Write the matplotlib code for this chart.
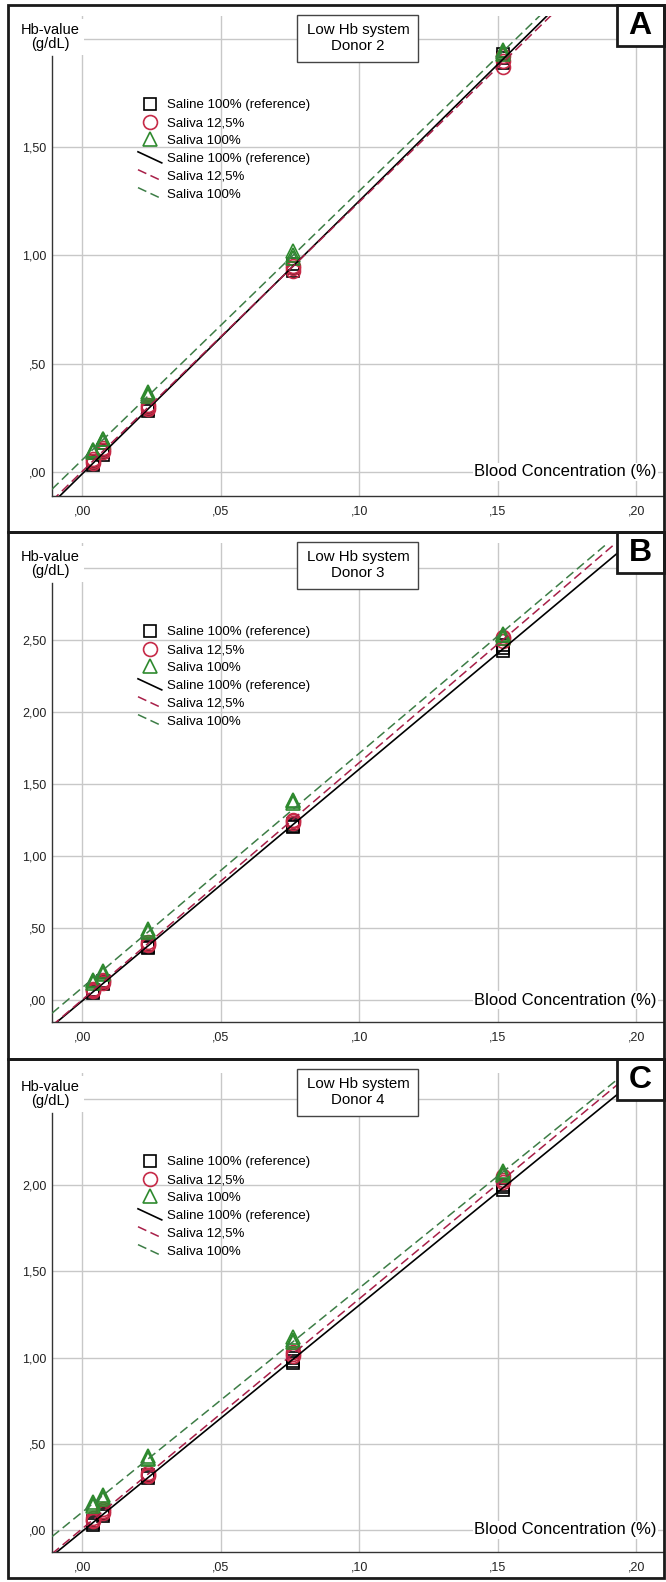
import numpy as np
import matplotlib
matplotlib.use("Agg")
import matplotlib.pyplot as plt
from matplotlib.lines import Line2D
from matplotlib.patches import Rectangle
from matplotlib.legend_handler import HandlerBase

plt.rcParams['font.family'] = ['Liberation Sans', 'DejaVu Sans']

# blood concentration (%) of the dilution series
conc = [0.0038, 0.0076, 0.0238, 0.076, 0.152]

# Hb values (g/dL), three replicates per concentration
saline_A = [[0.03, 0.04, 0.05], [0.08, 0.09, 0.10], [0.28, 0.29, 0.30], [0.93, 0.94, 0.96], [1.89, 1.91, 1.93]]
saliva125_A = [[0.04, 0.05, 0.06], [0.09, 0.10, 0.11], [0.29, 0.30, 0.31], [0.93, 0.94, 0.95], [1.87, 1.90, 1.92]]
saliva100_A = [[0.09, 0.10, 0.10], [0.14, 0.15, 0.15], [0.35, 0.36, 0.37], [0.99, 1.00, 1.02], [1.93, 1.94, 1.95]]

saline_B = [[0.05, 0.06, 0.07], [0.11, 0.12, 0.13], [0.36, 0.37, 0.38], [1.20, 1.21, 1.22], [2.42, 2.44, 2.46]]
saliva125_B = [[0.06, 0.07, 0.08], [0.12, 0.13, 0.14], [0.38, 0.39, 0.40], [1.23, 1.24, 1.25], [2.49, 2.51, 2.52]]
saliva100_B = [[0.12, 0.13, 0.14], [0.18, 0.19, 0.20], [0.47, 0.48, 0.49], [1.37, 1.38, 1.39], [2.51, 2.53, 2.54]]

saline_C = [[0.03, 0.04, 0.05], [0.08, 0.09, 0.10], [0.30, 0.31, 0.32], [0.97, 0.98, 1.00], [1.97, 1.99, 2.00]]
saliva125_C = [[0.05, 0.06, 0.07], [0.10, 0.11, 0.12], [0.31, 0.32, 0.33], [1.01, 1.02, 1.03], [2.02, 2.03, 2.05]]
saliva100_C = [[0.14, 0.15, 0.16], [0.18, 0.19, 0.20], [0.41, 0.42, 0.43], [1.09, 1.10, 1.12], [2.06, 2.07, 2.08]]

letters = ["A", "B", "C"]
donors = ["Donor 2", "Donor 3", "Donor 4"]
series_labels = ["Saline 100% (reference)", "Saliva 12,5%", "Saliva 100%"]
x_ticks = [0.0, 0.05, 0.10, 0.15, 0.20]

data = [(saline_A, saliva125_A, saliva100_A),
        (saline_B, saliva125_B, saliva100_B),
        (saline_C, saliva125_C, saliva100_C)]

# layout in pixels
W, H = 666, 1582
panel_top = [5, 532, 1059]
panel_bot = [532, 1059, 1578]
ax_top = [16, 543, 1073]
ax_bot = [496, 1022, 1552]
ax_left, ax_right = 52, 663
ylims = [(-0.111, 2.106), (-0.152, 3.17), (-0.128, 2.65)]
grid_top = [2.0, 3.0, 2.5]

mark_col = ['black', '#c62a47', '#2f8a2f']
line_col = ['black', '#a81f48', '#3d7d46']
markers = ['s', 'o', '^']
msizes = [9, 10, 9.5]


class SlantHandler(HandlerBase):
    # SPSS style legend line: short diagonal stroke
    def create_artists(self, legend, orig_handle, xdescent, ydescent,
                       width, height, fontsize, trans):
        x0 = -xdescent
        y0 = -ydescent
        ln = Line2D([x0, x0 + width], [y0 + height * 1.1, y0 - height * 0.1])
        ln.update_from(orig_handle)
        ln.set_transform(trans)
        return [ln]


def fmt(v):
    return f"{v:.2f}".replace('.', ',').lstrip('0')


fig = plt.figure(figsize=(W / 100, H / 100), dpi=100)
fig.patch.set_facecolor('white')

for i in range(3):
    ax_h = ax_bot[i] - ax_top[i]
    ax = fig.add_axes([ax_left / W, 1 - ax_bot[i] / H,
                       (ax_right - ax_left) / W, ax_h / H])
    ax.set_xlim(-0.0109, (ax_right - 82.3) / 2769)
    y0, y1 = ylims[i]
    ax.set_ylim(y0, y1)
    for s in ['top', 'right']:
        ax.spines[s].set_visible(False)
    for s in ['left', 'bottom']:
        ax.spines[s].set_color('#333333')
        ax.spines[s].set_linewidth(1.0)
    # y axis line starts below the axis title
    ax.spines['left'].set_bounds(y0, y1 - (y1 - y0) * 40 / ax_h)

    yt = list(np.arange(0, grid_top[i] + 0.01, 0.5))
    ax.set_yticks(yt)
    ax.set_yticklabels([fmt(t) if t < grid_top[i] - 0.01 else '' for t in yt])
    ax.set_xticks(x_ticks)
    ax.set_xticklabels([fmt(t) for t in x_ticks])
    ax.tick_params(length=0, labelsize=9, colors='#222222')
    ax.tick_params(axis='x', pad=7)
    ax.tick_params(axis='y', pad=4)
    ax.grid(True, color='#c8c8c8', linewidth=1.0)
    ax.set_axisbelow(True)

    # scatter of replicates
    for j, vals in enumerate(data[i]):
        xs = np.repeat(conc, [len(r) for r in vals])
        ys = np.concatenate(vals)
        ax.plot(xs, ys, linestyle='none', marker=markers[j], ms=msizes[j],
                mfc='none', mec=mark_col[j], mew=1.2, zorder=3)

    # linear fit lines per group
    xr = np.array(ax.get_xlim())
    for j, vals in enumerate(data[i]):
        xs = np.repeat(conc, [len(r) for r in vals])
        ys = np.concatenate(vals)
        k, b = np.polyfit(xs, ys, 1)
        if j == 0:
            ax.plot(xr, k * xr + b, color=line_col[j], lw=1.2, zorder=4)
        else:
            ax.plot(xr, k * xr + b, color=line_col[j], lw=1.1,
                    dashes=(6, 3), zorder=5)

    # legend
    handles = []
    for j in range(3):
        handles.append(Line2D([], [], linestyle='none', marker=markers[j],
                              ms=msizes[j], mfc='none', mec=mark_col[j], mew=1.2))
    line_handles = [Line2D([], [], color=line_col[0], lw=1.2),
                    Line2D([], [], color=line_col[1], lw=1.1, dashes=(6, 3)),
                    Line2D([], [], color=line_col[2], lw=1.1, dashes=(6, 3))]
    hmap = {h: SlantHandler() for h in line_handles}
    ax.legend(handles + line_handles, series_labels + series_labels,
              loc='upper left', bbox_to_anchor=(138 / W, 1 - (ax_top[i] + 83) / H),
              bbox_transform=fig.transFigure, frameon=False, fontsize=9.5,
              handlelength=1.8, handletextpad=0.4, labelspacing=0.43,
              borderpad=0, borderaxespad=0, numpoints=1, handler_map=hmap)

    # axis titles
    fig.text(50 / W, 1 - (ax_top[i] + 21) / H, "Hb-value\n(g/dL)", ha='center', va='center',
             fontsize=10.5, linespacing=1.0,
             bbox=dict(facecolor='white', edgecolor='none', pad=3))
    zero_px = ax_top[i] + ax_h * y1 / (y1 - y0)
    ax.text(657 / W, 1 - zero_px / H,
            "Blood Concentration (%)", transform=fig.transFigure, ha='right', va='center',
            fontsize=12, zorder=6,
            bbox=dict(facecolor='white', edgecolor='none', pad=1))

    # chart title box
    pt = panel_top[i]
    fig.add_artist(Rectangle((297 / W, 1 - (pt + 57) / H), 121 / W, 47 / H,
                             transform=fig.transFigure, facecolor='white',
                             edgecolor='#444444', lw=1.0, zorder=7))
    fig.text(358 / W, 1 - (pt + 33) / H, "Low Hb system\n" + donors[i], ha='center',
             va='center', fontsize=10.8, linespacing=1.15, zorder=8)

    # panel letter box
    fig.add_artist(Rectangle((617 / W, 1 - (pt + 41) / H), 47 / W, 41 / H,
                             transform=fig.transFigure, facecolor='white',
                             edgecolor='#1a1a1a', lw=2.0, zorder=7))
    fig.text(640 / W, 1 - (pt + 21) / H, letters[i], ha='center', va='center',
             fontsize=23, fontweight='bold', zorder=8)

    # outer panel border
    fig.add_artist(Rectangle((8 / W, 1 - panel_bot[i] / H), 656 / W,
                             (panel_bot[i] - pt) / H, transform=fig.transFigure,
                             fill=False, edgecolor='#1a1a1a', lw=2.0, zorder=9))

fig.savefig("out.png", dpi=100)
